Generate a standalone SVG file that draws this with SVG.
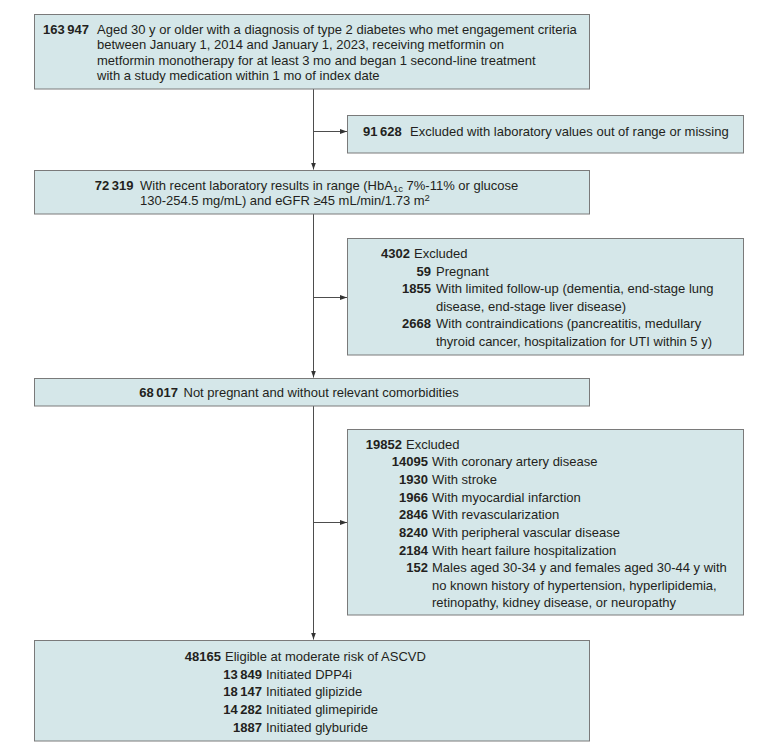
<svg xmlns="http://www.w3.org/2000/svg" width="780" height="755" viewBox="0 0 780 755">
<defs>
<style>
.box{fill:#d5e7e9;stroke:#7a7a7a;stroke-width:1}
text{font-family:"Liberation Sans",Arial,sans-serif;font-size:13px;fill:#231f20}
.b{font-weight:bold}
.e{text-anchor:end}
.c{fill:none;stroke:#4d4d4d;stroke-width:1}
</style>
<marker id="ah" markerUnits="userSpaceOnUse" markerWidth="8" markerHeight="6" refX="7" refY="3" orient="auto">
<path d="M0,0.5 L7,3 L0,5.5 z" fill="#333"/>
</marker>
</defs>
<rect width="780" height="755" fill="#fff"/>
<g id="connectors">
<path class="c" d="M313.5,89 V169.5" marker-end="url(#ah)"/>
<path class="c" d="M313.5,131.5 H347" marker-end="url(#ah)"/>
<path class="c" d="M313.5,214 V377.5" marker-end="url(#ah)"/>
<path class="c" d="M313.5,297.5 H347" marker-end="url(#ah)"/>
<path class="c" d="M313.5,406 V639.5" marker-end="url(#ah)"/>
<path class="c" d="M313.5,522.5 H347" marker-end="url(#ah)"/>
</g>
<g id="n1">
<rect class="box" x="34.5" y="14.5" width="555" height="74.5"/>
<text class="b" x="43" y="33.5">163&#8201;947</text>
<text x="97" y="33.5">Aged 30 y or older with a diagnosis of type 2 diabetes who met engagement criteria</text>
<text x="97" y="49">between January 1, 2014 and January 1, 2023, receiving metformin on</text>
<text x="97" y="64.5">metformin monotherapy for at least 3 mo and began 1 second-line treatment</text>
<text x="97" y="80">with a study medication within 1 mo of index date</text>
</g>
<g id="x1">
<rect class="box" x="347.5" y="115.5" width="396" height="37.5"/>
<text class="b" x="363" y="135.5">91&#8201;628</text>
<text x="410" y="135.5">Excluded with laboratory values out of range or missing</text>
</g>
<g id="n2">
<rect class="box" x="34.5" y="170.5" width="555" height="43.5"/>
<text class="b e" x="133.5" y="189.5">72&#8201;319</text>
<text x="140" y="189.5">With recent laboratory results in range (HbA<tspan font-size="9.5" dy="2.5">1c</tspan><tspan dy="-2.5"> 7%-11% or glucose</tspan></text>
<text x="140" y="205">130-254.5 mg/mL) and eGFR ≥45 mL/min/1.73 m<tspan font-size="9.5" dy="-4.5">2</tspan></text>
</g>
<g id="x2">
<rect class="box" x="347.5" y="238.5" width="396" height="116.5"/>
<text class="b e" x="410" y="258">4302</text>
<text x="414" y="258">Excluded</text>
<text class="b e" x="431" y="275.5">59</text>
<text x="436" y="275.5">Pregnant</text>
<text class="b e" x="431" y="293">1855</text>
<text x="436" y="293">With limited follow-up (dementia, end-stage lung</text>
<text x="436" y="310.5">disease, end-stage liver disease)</text>
<text class="b e" x="431" y="328">2668</text>
<text x="436" y="328">With contraindications (pancreatitis, medullary</text>
<text x="436" y="345.5">thyroid cancer, hospitalization for UTI within 5 y)</text>
</g>
<g id="n3">
<rect class="box" x="34.5" y="378.5" width="555" height="27.5"/>
<text class="b e" x="178" y="396.5">68&#8201;017</text>
<text x="183.5" y="396.5">Not pregnant and without relevant comorbidities</text>
</g>
<g id="x3">
<rect class="box" x="347.5" y="429.5" width="396" height="185.5"/>
<text class="b e" x="402" y="448.7">19852</text>
<text x="406" y="448.7">Excluded</text>
<text class="b e" x="428" y="466.3">14095</text>
<text x="432" y="466.3">With coronary artery disease</text>
<text class="b e" x="428" y="484">1930</text>
<text x="432" y="484">With stroke</text>
<text class="b e" x="428" y="501.6">1966</text>
<text x="432" y="501.6">With myocardial infarction</text>
<text class="b e" x="428" y="519.2">2846</text>
<text x="432" y="519.2">With revascularization</text>
<text class="b e" x="428" y="536.9">8240</text>
<text x="432" y="536.9">With peripheral vascular disease</text>
<text class="b e" x="428" y="554.5">2184</text>
<text x="432" y="554.5">With heart failure hospitalization</text>
<text class="b e" x="428" y="572.1">152</text>
<text x="432" y="572.1">Males aged 30-34 y and females aged 30-44 y with</text>
<text x="432" y="589.7">no known history of hypertension, hyperlipidemia,</text>
<text x="432" y="607.4">retinopathy, kidney disease, or neuropathy</text>
</g>
<g id="n4">
<rect class="box" x="34.5" y="640.5" width="555" height="100.5"/>
<text class="b e" x="221" y="660.7">48165</text>
<text x="225" y="660.7">Eligible at moderate risk of ASCVD</text>
<text class="b e" x="262" y="678.5">13&#8201;849</text>
<text x="266" y="678.5">Initiated DPP4i</text>
<text class="b e" x="262" y="696.3">18&#8201;147</text>
<text x="266" y="696.3">Initiated glipizide</text>
<text class="b e" x="262" y="714">14&#8201;282</text>
<text x="266" y="714">Initiated glimepiride</text>
<text class="b e" x="262" y="731.8">1887</text>
<text x="266" y="731.8">Initiated glyburide</text>
</g>
</svg>
